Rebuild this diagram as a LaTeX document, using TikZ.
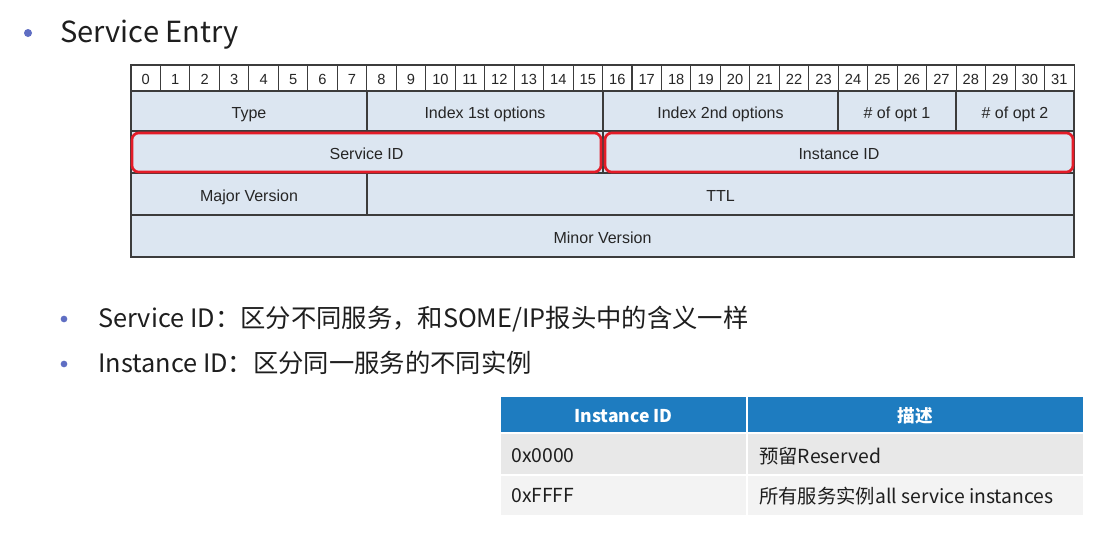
\documentclass[tikz,border=0pt]{standalone}
\usepackage{fontspec}
\setmainfont{Liberation Sans}
\newfontfamily\cjk{Noto Sans CJK SC}
\usetikzlibrary{fit}
\definecolor{fieldfill}{RGB}{220,230,241}
\definecolor{gridline}{RGB}{60,60,60}
\definecolor{hilite}{RGB}{228,28,40}
\definecolor{bulletc}{RGB}{95,110,195}
\definecolor{thead}{RGB}{30,124,192}
\definecolor{rowa}{RGB}{232,232,232}
\definecolor{rowb}{RGB}{243,243,243}
\definecolor{bodytext}{RGB}{30,30,30}
\tikzset{
  bitcell/.style={draw=gridline, line width=0.8pt, fill=white, inner sep=0pt},
  bitlabel/.style={font=\fontsize{11}{13}\selectfont, text=black!85, text height=0.72em, text depth=0pt, yshift=-1.3pt},
  field/.style={draw=gridline, line width=0.8pt, fill=fieldfill, inner sep=0pt},
  fieldlabel/.style={font=\fontsize{12}{14}\selectfont, text=black!85, text height=0.72em, text depth=0pt, yshift=-2pt},
  idbox/.style={draw=hilite, line width=2pt, rounded corners=5pt, inner sep=0pt},
  dot/.style={circle, fill=bulletc, inner sep=0pt, minimum size=#1},
  bullettext/.style={anchor=base west, inner sep=0pt, font=\cjk\fontsize{19}{22}\selectfont, text=bodytext},
  thcell/.style={fill=thead, inner sep=0pt},
  thlabel/.style={text=white, font=\cjk\bfseries\fontsize{13.2}{16}\selectfont, yshift=-1pt},
  tdcell/.style={inner sep=0pt, font=\cjk\fontsize{14.5}{17}\selectfont, text=bodytext},
}
\begin{document}
\begin{tikzpicture}[x=0.75pt,y=-0.75pt]
\useasboundingbox[fill=white] (0,0) rectangle (1114,539);

% title bullet
\node[dot=6pt] (d0) at (28,33) {};
\node[anchor=base west, inner sep=0pt, font=\cjk\fontsize{21.8}{26}\selectfont, text=bodytext] (title) at (60,42) {Service Entry};

% bit numbers
\foreach \i in {0,...,31}{
  \pgfmathsetmacro{\xa}{131+\i*29.47}
  \pgfmathsetmacro{\xb}{131+(\i+1)*29.47}
  \node[bitcell, fit={(\xa,65) (\xb,91)}, label={[bitlabel]center:\i}] (b\i) {};
}

% header fields
\node[field, fit={(131,91) (367,131)}, label={[fieldlabel]center:Type}] (type) {};
\node[field, fit={(367,91) (603,131)}, label={[fieldlabel]center:Index 1st options}] (idx1) {};
\node[field, fit={(603,91) (838,131)}, label={[fieldlabel]center:Index 2nd options}] (idx2) {};
\node[field, fit={(838,91) (956,131)}, label={[fieldlabel]center:\# of opt 1}] (nopt1) {};
\node[field, fit={(956,91) (1074,131)}, label={[fieldlabel]center:\# of opt 2}] (nopt2) {};
\node[field, fit={(131,131) (603,173)}] (sid) {};
\node[field, fit={(603,131) (1074,173)}] (iid) {};
\node[field, fit={(131,173) (367,215)}, label={[fieldlabel]center:Major Version}] (major) {};
\node[field, fit={(367,173) (1074,215)}, label={[fieldlabel]center:TTL}] (ttl) {};
\node[field, fit={(131,215) (1074,257)}, label={[fieldlabel]center:Minor Version}] (minor) {};

% highlighted identifiers
\node[idbox, fit={(132,133) (601,172)}, label={[fieldlabel]center:Service ID}] (sidbox) {};
\node[idbox, fit={(605,133) (1073,172)}, label={[fieldlabel]center:Instance ID}] (iidbox) {};

% explanation bullets
\node[dot=5pt] (d1) at (64,319) {};
\node[bullettext] (t1) at (98,327) {Service ID：区分不同服务，和SOME/IP报头中的含义一样};
\node[dot=5pt] (d2) at (64,364) {};
\node[bullettext] (t2) at (98,372) {Instance ID：区分同一服务的不同实例};

% value table
\node[thcell, fit={(501,397) (746,432)}, label={[thlabel]center:Instance ID}] (h1) {};
\node[thcell, fit={(748,397) (1083,432)}, label={[thlabel]center:描述}] (h2) {};
\fill[rowa] (501,434) rectangle (746,474);
\fill[rowa] (748,434) rectangle (1083,474);
\fill[rowb] (501,476) rectangle (746,515);
\fill[rowb] (748,476) rectangle (1083,515);
\node[tdcell, anchor=west] (r1a) at (511,456) {0x0000};
\node[tdcell, anchor=west] (r1b) at (759,456) {预留Reserved};
\node[tdcell, anchor=west] (r2a) at (511,496) {0xFFFF};
\node[tdcell, anchor=west] (r2b) at (759,496) {所有服务实例all service instances};
\end{tikzpicture}
\end{document}
